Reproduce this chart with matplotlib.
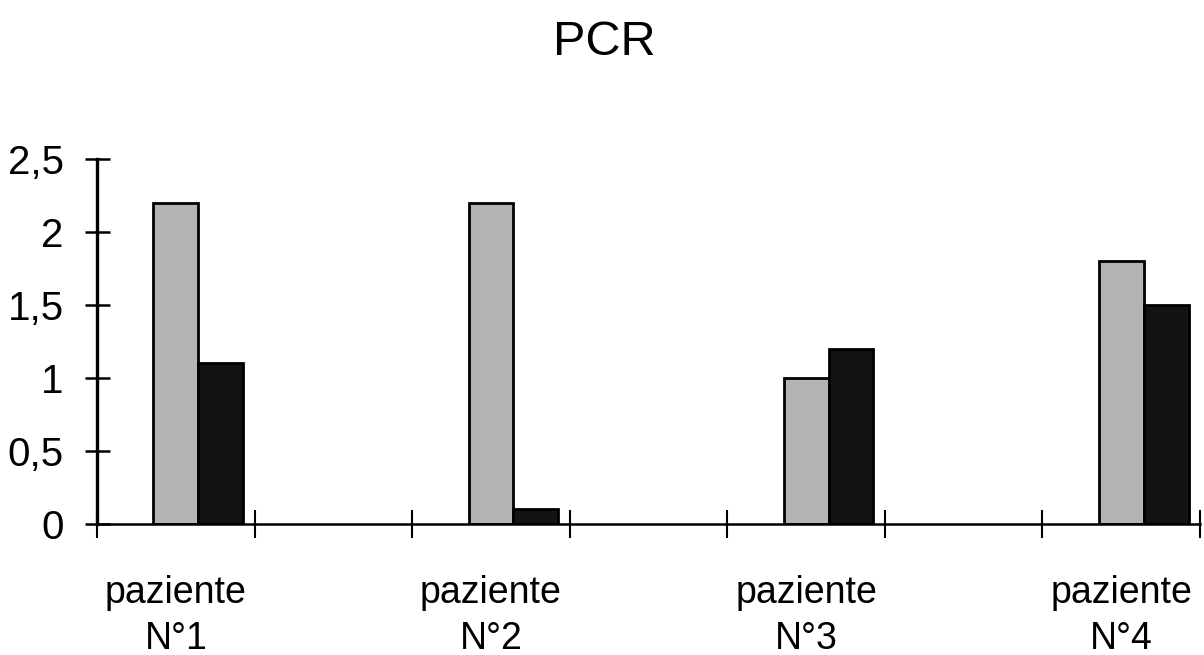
import matplotlib.pyplot as plt
import numpy as np

# dati
patients = ["paziente\nN°1", "paziente\nN°2", "paziente\nN°3", "paziente\nN°4"]
serie_grigia = [2.2, 2.2, 1.0, 1.8]
serie_nera = [1.1, 0.1, 1.2, 1.5]
y_ticks = [0, 0.5, 1, 1.5, 2, 2.5]
y_tick_labels = ["0", "0,5", "1", "1,5", "2", "2,5"]

plt.rcParams['font.family'] = ['Liberation Sans', 'DejaVu Sans']

fig = plt.figure(figsize=(12.04, 6.55), dpi=100)
ax = fig.add_axes([0.0806, 0.2, 0.9161, 0.5573])

# 7 categorie come nel foglio Excel: i pazienti stanno sulle posizioni pari
pos = np.arange(len(patients)) * 2
w = 0.285
ax.bar(pos, serie_grigia, w, color='#b3b3b3', edgecolor='k', linewidth=2)
ax.bar(pos + w, serie_nera, w, color='#131313', edgecolor='k', linewidth=2)

ax.set_xlim(-0.5, 2 * len(patients) - 1.5)
ax.set_ylim(0, 2.5)

ax.set_yticks(y_ticks, y_tick_labels)
ax.tick_params(axis='y', direction='inout', length=18, width=1.8,
               labelsize=29, pad=15)

# tacche ai confini delle categorie, etichette al centro
ax.set_xticks(np.arange(-0.5, 2 * len(patients) - 1, 1))
ax.set_xticklabels([])
ax.set_xticks(pos, patients, minor=True)
ax.tick_params(axis='x', which='major', direction='inout', length=20, width=1.5)
ax.tick_params(axis='x', which='minor', length=0, labelsize=27, pad=37)
for lab in ax.get_xticklabels(minor=True):
    lab.set_linespacing(1.33)

ax.spines['top'].set_visible(False)
ax.spines['right'].set_visible(False)
ax.spines['left'].set_linewidth(2.4)
ax.spines['bottom'].set_linewidth(1.8)

fig.text(604 / 1204, 0.916, "PCR", fontsize=35, ha='center', va='baseline')

fig.savefig('out.png', dpi=100)
